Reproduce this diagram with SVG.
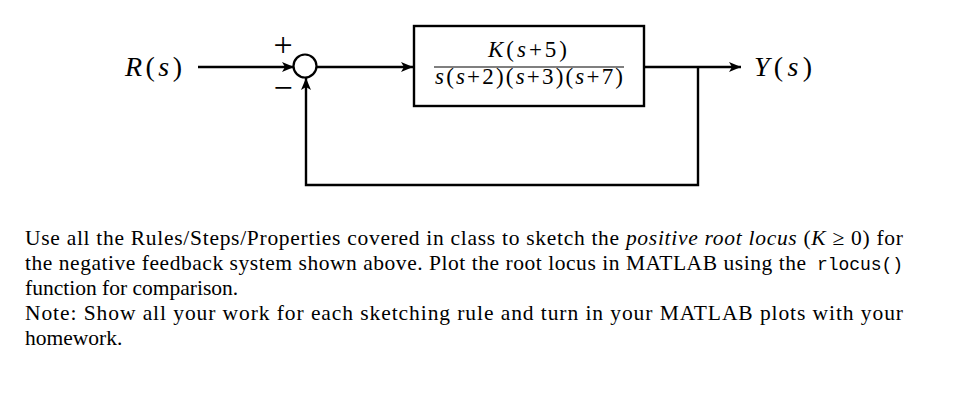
<svg xmlns="http://www.w3.org/2000/svg" width="971" height="403" viewBox="0 0 971 403">
<style>
.ln{stroke:#000;stroke-width:2.4;fill:none}
.m{font-family:"Liberation Serif",serif;font-style:italic;fill:#000}
.r{font-family:"Liberation Serif",serif;font-style:normal}
.t{font-family:"Liberation Serif",serif;font-size:21.5px;fill:#000}
.tt{font-family:"Liberation Mono",monospace;font-size:18px;fill:#000}
.sg{font-family:"Liberation Serif",serif;font-size:34px;fill:#000}
</style>
<defs>
<marker id="ah" markerWidth="12" markerHeight="10" refX="12" refY="5" orient="auto" markerUnits="userSpaceOnUse">
<path d="M0,0 L12,5 L0,10 L3,5 Z" fill="#000"/>
</marker>
</defs>
<rect width="971" height="403" fill="#fff"/>
<g id="connectors">
<line class="ln" x1="198" y1="67" x2="294" y2="67" marker-end="url(#ah)"/>
<line class="ln" x1="317" y1="67" x2="413" y2="67" marker-end="url(#ah)"/>
<line class="ln" x1="644" y1="67" x2="741" y2="67" marker-end="url(#ah)"/>
<polyline class="ln" points="698,67 698,185 306,185 306,78" marker-end="url(#ah)"/>
</g>
<g id="input">
<text class="m" x="125" y="76" font-size="28" textLength="57" lengthAdjust="spacing">R<tspan class="r">(</tspan>s<tspan class="r">)</tspan></text>
</g>
<g id="sum">
<circle cx="305" cy="66" r="11.5" fill="#fff" stroke="#000" stroke-width="2.2"/>
<text class="sg" x="283" y="56" text-anchor="middle">+</text>
<text class="sg" x="283" y="99" text-anchor="middle">−</text>
</g>
<g id="plant">
<rect x="414" y="26" width="230" height="80" fill="#fff" stroke="#000" stroke-width="2.4"/>
<text class="m" x="488" y="57" font-size="23" textLength="79" lengthAdjust="spacing">K<tspan class="r">(</tspan>s<tspan class="r">+5)</tspan></text>
<line x1="434" y1="67" x2="624" y2="67" stroke="#000" stroke-width="1.2"/>
<text class="m" x="435" y="84" font-size="23" textLength="188" lengthAdjust="spacing">s<tspan class="r">(</tspan>s<tspan class="r">+2)(</tspan>s<tspan class="r">+3)(</tspan>s<tspan class="r">+7)</tspan></text>
</g>
<g id="output">
<text class="m" x="754" y="76" font-size="28" textLength="58" lengthAdjust="spacing">Y<tspan class="r">(</tspan>s<tspan class="r">)</tspan></text>
</g>
<g id="description">
<text class="t" x="25" y="245" textLength="878" lengthAdjust="spacing">Use all the Rules/Steps/Properties covered in class to sketch the <tspan font-style="italic">positive root locus</tspan> (<tspan font-style="italic">K</tspan> ≥ 0) for</text>
<text class="t" x="25" y="270" textLength="781" lengthAdjust="spacing">the negative feedback system shown above. Plot the root locus in MATLAB using the</text>
<text class="tt" x="817" y="270" textLength="86" lengthAdjust="spacing">rlocus()</text>
<text class="t" x="25" y="295">function for comparison.</text>
<text class="t" x="25" y="320" textLength="878" lengthAdjust="spacing">Note:  Show all your work for each sketching rule and turn in your MATLAB plots with your</text>
<text class="t" x="25" y="345">homework.</text>
</g>
</svg>
